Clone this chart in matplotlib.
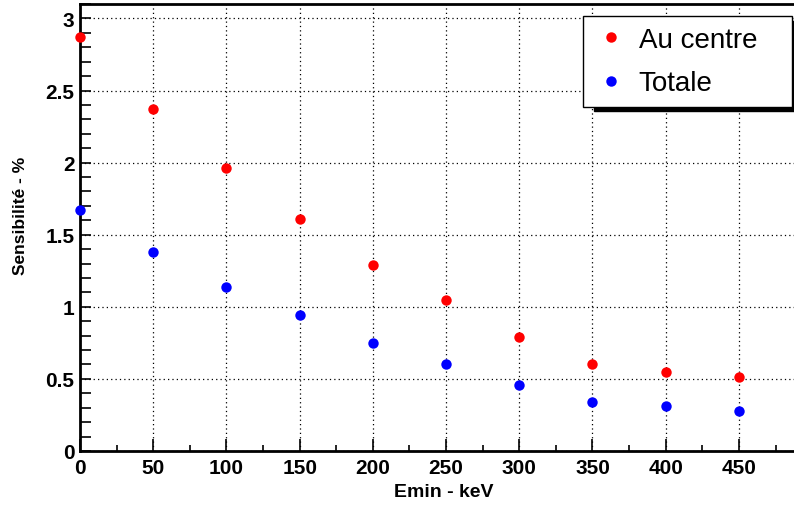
import matplotlib
matplotlib.use("Agg")
import matplotlib.pyplot as plt
from matplotlib.ticker import MultipleLocator
from matplotlib.patches import Rectangle

plt.rcParams['font.family'] = ['Liberation Sans', 'DejaVu Sans']

# data
emin = [0, 50, 100, 150, 200, 250, 300, 350, 400, 450]
au_centre = [2.87, 2.37, 1.96, 1.61, 1.29, 1.05, 0.79, 0.60, 0.55, 0.51]
totale = [1.67, 1.38, 1.14, 0.94, 0.75, 0.60, 0.46, 0.34, 0.31, 0.28]

fig = plt.figure(figsize=(7.94, 5.06), dpi=100)
ax = fig.add_axes([80 / 794, 54 / 506, 716 / 794, 447 / 506])

p1, = ax.plot(emin, au_centre, 'o', color='#ff0000', ms=7.5, mec='none', label='Au centre', clip_on=False, zorder=5)
p2, = ax.plot(emin, totale, 'o', color='#0000ff', ms=7.5, mec='none', label='Totale', clip_on=False, zorder=5)

ax.set_xlim(0, 489)
ax.set_ylim(0, 3.1)
ax.xaxis.set_major_locator(MultipleLocator(50))
ax.xaxis.set_minor_locator(MultipleLocator(25))
ax.yaxis.set_major_locator(MultipleLocator(0.5))
ax.yaxis.set_minor_locator(MultipleLocator(0.1))
ax.set_xticks([0, 50, 100, 150, 200, 250, 300, 350, 400, 450])
ax.set_xticklabels(['0', '50', '100', '150', '200', '250', '300', '350', '400', '450'])
ax.set_yticks([0, 0.5, 1, 1.5, 2, 2.5, 3])
ax.set_yticklabels(['0', '0.5', '1', '1.5', '2', '2.5', '3'])

ax.grid(True, which='major', ls=(0, (1, 2.5)), color='black', lw=0.9)
ax.tick_params(which='both', direction='in', top=False, right=False, width=1.2, color='black')
ax.tick_params(axis='x', which='major', length=9, labelsize=15, pad=5)
ax.tick_params(axis='x', which='minor', length=4.5)
ax.tick_params(axis='y', which='major', length=8, labelsize=15, pad=4)
ax.tick_params(axis='y', which='minor', length=8)
for lab in ax.get_xticklabels() + ax.get_yticklabels():
    lab.set_fontweight('bold')

for s in ['left', 'bottom', 'top']:
    ax.spines[s].set_linewidth(2)
ax.spines['right'].set_visible(False)

fig.text(493 / 794, 1 - 493 / 506, 'Emin - keV', ha='right', va='center', fontsize=14, fontweight='bold')
fig.text(21 / 794, 1 - 157 / 506, 'Sensibilité - %', ha='center', va='top', rotation=90, fontsize=12.5, fontweight='bold')

# legend with ROOT-style shadow
fig.patches.append(Rectangle((594 / 794, 1 - 112 / 506), 210 / 794, 90 / 506, transform=fig.transFigure,
                             facecolor='black', edgecolor='black', zorder=8))
leg = fig.legend(handles=[p1, p2], loc='upper left', bbox_to_anchor=(583 / 794, 1 - 105 / 506, 209 / 794, 88 / 506),
                 mode='expand', fontsize=20, frameon=True, fancybox=False,
                 framealpha=1, edgecolor='black', handletextpad=0.4, borderpad=0.4, labelspacing=0.62,
                 handlelength=1.2, markerscale=1.0, borderaxespad=0)
leg.get_frame().set_linewidth(1)
leg.set_zorder(10)

fig.savefig('out.png', dpi=100)
